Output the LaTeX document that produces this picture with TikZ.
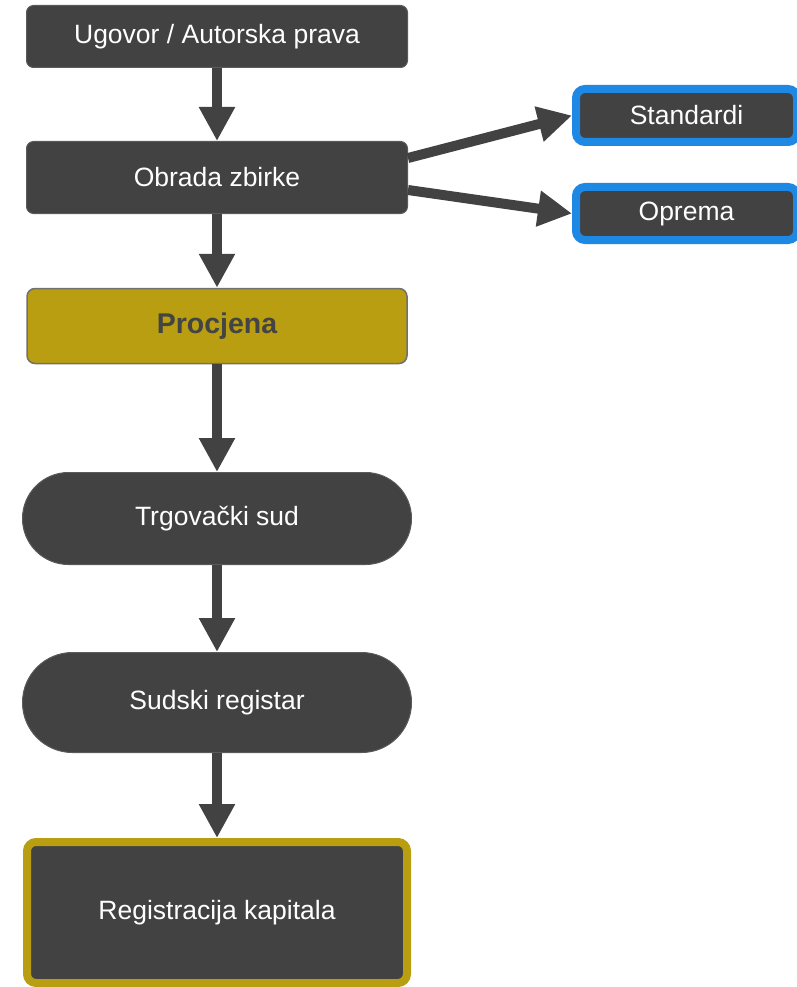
\documentclass[tikz,border=0pt]{standalone}
\usepackage{fontspec}
\setmainfont{Liberation Sans}
\usetikzlibrary{arrows.meta,calc}
\definecolor{boxdark}{HTML}{424242}
\definecolor{boxedge}{HTML}{5A5A5A}
\definecolor{gold}{HTML}{B89E10}
\definecolor{blueedge}{HTML}{1E88E5}
\definecolor{procedge}{HTML}{707070}
\definecolor{proctext}{HTML}{444444}
\tikzset{
  darkbox/.style={draw=boxedge, line width=1pt, fill=boxdark, text=white, rounded corners=7pt,
    font=\fontsize{26.5}{30}\selectfont, inner sep=0pt},
  stadium/.style={darkbox, rounded corners=#1},
  procbox/.style={draw=procedge, line width=1.5pt, fill=gold, text=proctext, rounded corners=8pt,
    font=\fontsize{28.5}{32}\selectfont\bfseries, inner sep=0pt},
  goldframe/.style={darkbox, draw=gold, line width=8pt, rounded corners=9pt},
  blueframe/.style={darkbox, draw=blueedge, line width=8pt, rounded corners=9pt},
  flow/.style={draw=boxdark, line width=10pt, -{Triangle[length=34pt,width=34pt]}}
}
\begin{document}
\begin{tikzpicture}[x=1pt,y=-1pt]
\useasboundingbox (0,0) rectangle (797,987);
\node[darkbox, minimum width=381pt, minimum height=62pt] (ugovor) at (217,36.5) {Ugovor / Autorska prava};
\node[darkbox, minimum width=381pt, minimum height=72pt] (obrada) at (217,177.5) {Obrada zbirke};
\node[procbox, minimum width=380pt, minimum height=75pt] (procjena) at (217,326) {Procjena};
\node[stadium=46pt, minimum width=389pt, minimum height=92pt] (trg) at (217,518.5) {Trgovački sud};
\node[stadium=50pt, minimum width=389pt, minimum height=100pt] (sud) at (217,702.5) {Sudski registar};
\node[goldframe, minimum width=380pt, minimum height=141pt] (reg) at (217,912.5) {Registracija kapitala};
\node[blueframe, minimum width=221pt, minimum height=53pt] (std) at (686.5,115.5) {Standardi};
\node[blueframe, minimum width=221pt, minimum height=53pt] (opr) at (686.5,213.5) {Oprema};
\draw[flow] (ugovor.south) -- (obrada.north);
\draw[flow] (obrada.south) -- (procjena.north);
\draw[flow] (procjena.south) -- (trg.north);
\draw[flow] (trg.south) -- (sud.north);
\draw[flow] (sud.south) -- (reg.north);
\draw[flow] ($(obrada.east)+(0,-19.5)$) -- (std.west);
\draw[flow] ($(obrada.east)+(0,12.5)$) -- (opr.west);
\end{tikzpicture}
\end{document}
